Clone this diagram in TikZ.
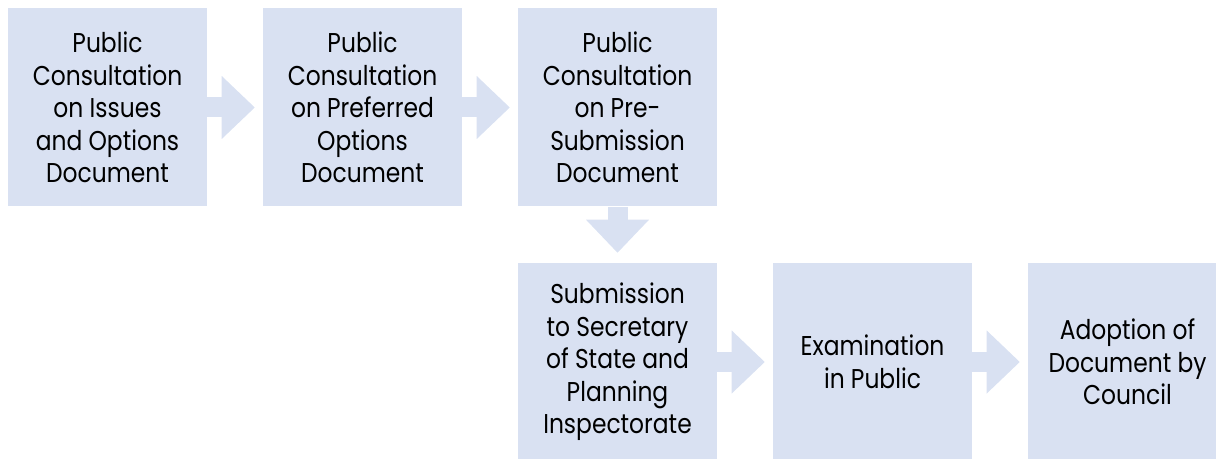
\documentclass[tikz,border=0pt]{standalone}
\usepackage{fontspec}
\setmainfont{Poppins}[FakeStretch=0.86]
\usetikzlibrary{arrows.meta}
\definecolor{stageblue}{RGB}{217,225,242}
\tikzset{
  stage/.style={fill=stageblue, minimum width=149.25pt, minimum height=148.5pt, inner sep=0pt, align=center, font=\fontsize{20.4pt}{24.4pt}\selectfont},
  flow/.style={draw=stageblue, line width=15pt, -{Triangle[length=24.75pt, width=47.25pt, line width=0pt]}, shorten >=6pt},
}
\begin{document}
\begin{tikzpicture}[x=0.75pt,y=0.75pt,yscale=-1,xscale=1]
\useasboundingbox (0,0) rectangle (1216,459);
\clip (0,0) rectangle (1216,459);

% Stage Nodes
\node [stage] (issues) at (107.5,107.5) {Public\\Consultation\\on Issues\\and Options\\Document};
\node [stage] (preferred) at (362.5,107.5) {Public\\Consultation\\on Preferred\\Options\\Document};
\node [stage] (presub) at (617.5,107.5) {Public\\Consultation\\on Pre-\\Submission\\Document};
\node [stage] (submission) at (617.5,362) {Submission\\to Secretary\\of State and\\Planning\\Inspectorate};
\node [stage] (exam) at (872.5,362) {Examination\\in Public};
\node [stage] (adoption) at (1127.5,362) {Adoption of\\Document by\\Council};

% Block Arrows
\draw [flow] (issues) -- (preferred);
\draw [flow] (preferred) -- (presub);
\draw [flow, shorten >=7.5pt] (presub) -- (submission);
\draw [flow] (submission) -- (exam);
\draw [flow] (exam) -- (adoption);

\end{tikzpicture}
\end{document}
